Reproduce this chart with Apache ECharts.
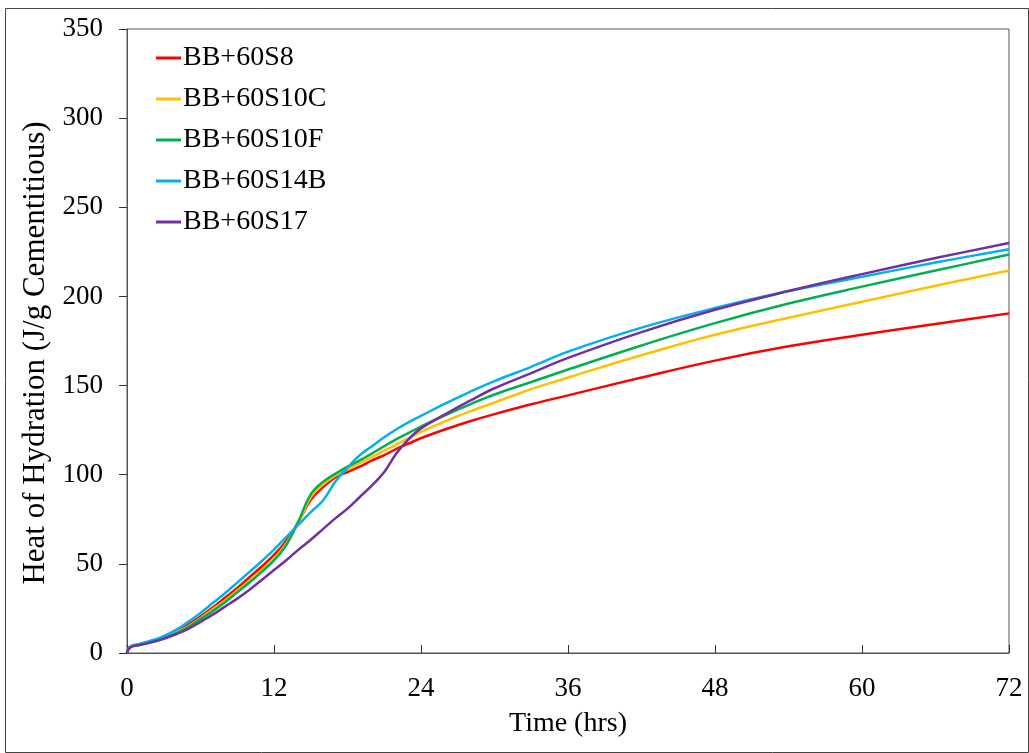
<!DOCTYPE html>
<html>
<head>
<meta charset="utf-8">
<script src="https://cdn.jsdelivr.net/npm/echarts@6/dist/echarts.min.js"></script>
<style>html,body{margin:0;padding:0;background:#fff}#c{width:1029px;height:753px}</style>
</head>
<body>
<div id="c"></div>
<script>
const hours = [0,0.25,1,2,3,4,5,6,7,8,9,10,11,12,13,14,15,16,17,18,19,20,21,22,23,24,26,28,30,33,36,42,48,54,60,66,72];
const s8   = [0,3.5,4.8,6.5,9,12,16,20.5,25.5,31,36.5,42.5,48.5,55,63,73.5,86,93,98.5,101.5,104.5,108,111,114.5,117.5,120.5,125.5,130,134,139.5,144.5,154.5,164,172,178.5,184.5,190.5];
const s10c = [0,3.3,4.6,6.4,8.7,11.5,15,19.5,24.5,29.5,35,40.5,46.5,53,61.5,73,87.5,94.5,99.5,103,106.5,110,113.5,117,120.5,124,130,135.5,140.5,148,154.5,167,178.5,188,197,206,214.5];
const s10f = [0,3.3,4.5,6.3,8.5,11,14.5,19,23.5,28.5,34,39.5,45.5,52,60.5,74,89,96,100.5,104.5,108,112,116,120,123.5,127,133.5,139.5,145,152,159,172.5,185,196,205.5,214.5,223.5];
const s14b = [0,3.5,5,7,9.5,13,17.5,22.5,28,33.5,39.5,45.5,51.5,58,65,72,79,85.5,96,104,111,116,121,125.5,129.5,133,140,146.5,152.5,160.5,169,182.5,193.5,203,211,219,226.5];
const s17  = [0,3,4.5,6,8,10.5,13.5,17.5,21.5,26,30.5,35.5,41,46.5,52,58,63.5,69.5,75.5,81,87.5,94,101.5,112,120,126,134,141.5,148.5,157,165.5,180,192.5,203,212.5,221.5,230];
const seriesNames = ['BB+60S8','BB+60S10C','BB+60S10F','BB+60S14B','BB+60S17'];
const seriesColors = ['#FF0000','#FFC000','#00B050','#00B0F0','#7030A0'];
const xTicks = [0,12,24,36,48,60,72];
const yTicks = [0,50,100,150,200,250,300,350];

const allData = [s8, s10c, s10f, s14b, s17];
const font = 'Liberation Serif';
const chart = echarts.init(document.getElementById('c'), null, {renderer:'canvas'});
chart.setOption({
  animation:false,
  backgroundColor:'#fff',
  graphic:[{type:'rect', left:3, top:6, shape:{width:1023, height:744}, style:{fill:'none', stroke:'#444', lineWidth:1}, silent:true, z:-1}],
  grid:{left:127, right:20, top:29, bottom:100, show:true, borderColor:'#555', borderWidth:1},
  legend:{
    orient:'vertical', left:156, top:44, padding:0, itemGap:13, itemWidth:25, itemHeight:3, icon:'rect',
    data:seriesNames,
    textStyle:{fontFamily:font, fontSize:28, lineHeight:28, color:'#000', padding:[0,0,0,-3]}
  },
  xAxis:{
    type:'value', min:xTicks[0], max:xTicks[xTicks.length-1], interval:12,
    name:'Time (hrs)', nameLocation:'middle', nameGap:57,
    nameTextStyle:{fontFamily:font, fontSize:28, color:'#000'},
    axisLine:{lineStyle:{color:'#555', width:1}},
    axisTick:{inside:true, length:8, lineStyle:{color:'#333'}},
    axisLabel:{fontFamily:font, fontSize:27, color:'#000', margin:22},
    splitLine:{show:false}
  },
  yAxis:{
    type:'value', min:yTicks[0], max:yTicks[yTicks.length-1], interval:50,
    name:'Heat of Hydration (J/g Cementitious)', nameLocation:'middle', nameGap:68,
    nameTextStyle:{fontFamily:font, fontSize:31, color:'#000', padding:[0,24,0,0]},
    axisLine:{show:true, lineStyle:{color:'#555', width:1}},
    axisTick:{show:true, inside:false, length:8, lineStyle:{color:'#333'}},
    axisLabel:{fontFamily:font, fontSize:27, color:'#000', margin:24},
    splitLine:{show:false}
  },
  series: seriesNames.map((n,i)=>({
    name:n, type:'line', smooth:0.4, symbol:'none', showSymbol:false,
    color:seriesColors[i],
    lineStyle:{width:2.5, color:seriesColors[i]},
    data: hours.map((h,j)=>[h, allData[i][j]])
  }))
});
</script>
</body>
</html>
